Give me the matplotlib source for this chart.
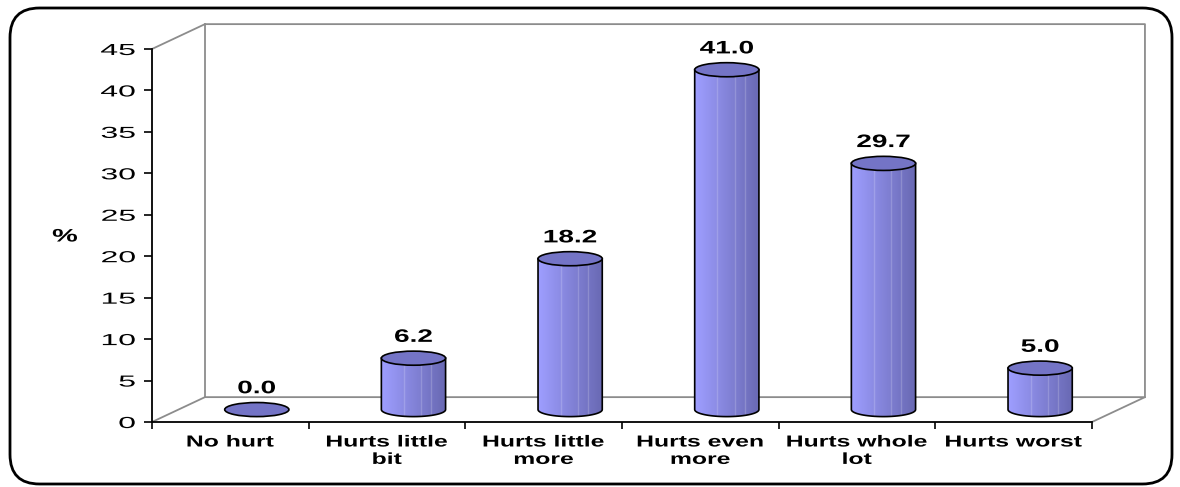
import numpy as np
import matplotlib
matplotlib.use('Agg')
import matplotlib.pyplot as plt
from matplotlib.patches import Ellipse, FancyBboxPatch, PathPatch
from matplotlib.patheffects import AbstractPathEffect
from matplotlib.path import Path
from matplotlib.transforms import Affine2D

plt.rcParams['font.family'] = ['Liberation Sans', 'DejaVu Sans']

# survey results (%)
categories = ['No hurt', 'Hurts little\nbit', 'Hurts little\nmore',
              'Hurts even\nmore', 'Hurts whole\nlot', 'Hurts worst']
values = [0.0, 6.2, 18.2, 41.0, 29.7, 5.0]
yticks = list(range(0, 50, 5))


class Widen(AbstractPathEffect):
    """Draw text glyphs stretched horizontally (wide Arial look)."""

    def __init__(self, sx, anchor='center'):
        super().__init__()
        self.sx = sx
        self.anchor = anchor

    def draw_path(self, renderer, gc, tpath, affine, rgbFace=None):
        ext = tpath.get_extents(affine)
        x0 = ext.x1 if self.anchor == 'right' else (ext.x0 + ext.x1) / 2
        aff = affine + Affine2D().translate(-x0, 0).scale(self.sx, 1).translate(x0, 0)
        renderer.draw_path(gc, tpath, aff, rgbFace)


# 3d look: depth offset of the back wall, in data units
depth_x = 0.338
depth_y = 3.0
bar_w = 0.41
cap_h = 1.7

fig = plt.figure(figsize=(11.8, 4.87), dpi=100)
ax = fig.add_axes([152 / 1180, 65 / 487, 940 / 1180, 373 / 487])

n = len(categories)
grey = '#8c8c8c'
# back wall + floor outline
ax.plot([0, depth_x, n + depth_x, n], [0, depth_y, depth_y, 0], color=grey, lw=1.3, clip_on=False)
ax.plot([0, depth_x, n + depth_x, n + depth_x], [45, 45 + depth_y, 45 + depth_y, depth_y],
        color=grey, lw=1.3, clip_on=False)
ax.plot([depth_x, depth_x], [depth_y, 45 + depth_y], color=grey, lw=1.3, clip_on=False)

# horizontal shading for the cylinder body
shade = np.linspace(0, 1, 64)
r = 0.62 - 0.21 * shade
g = 0.62 - 0.21 * shade
b = 1.00 - 0.30 * shade
grad = np.dstack([r, g, b])
grad = np.repeat(grad, 2, axis=0)

base = depth_y / 2
for i, v in enumerate(values):
    cx = i + 0.5 + depth_x / 2
    x0, x1 = cx - bar_w / 2, cx + bar_w / 2
    if v > 0:
        t = np.linspace(np.pi, 2 * np.pi, 40)
        arc = np.column_stack([cx + bar_w / 2 * np.cos(t), base + cap_h / 2 * np.sin(t)])
        verts = np.vstack([[x0, base + v], arc, [x1, base + v], [x0, base + v]])
        codes = [Path.MOVETO] + [Path.LINETO] * (len(verts) - 2) + [Path.CLOSEPOLY]
        body = PathPatch(Path(verts, codes), facecolor='none', edgecolor='black', lw=1.2, zorder=3)
        ax.add_patch(body)
        im = ax.imshow(grad, extent=[x0, x1, base - cap_h / 2, base + v], aspect='auto',
                       interpolation='bilinear', zorder=2)
        im.set_clip_path(body)
        # faint vertical highlights
        for fx in (0.35, 0.62, 0.78):
            ax.plot([x0 + fx * bar_w] * 2, [base - cap_h * 0.45, base + v], color='white',
                    alpha=0.18, lw=1, zorder=2.5)
    ax.add_patch(Ellipse((cx, base + v), bar_w, cap_h, facecolor='#7474c6',
                         edgecolor='black', lw=1.2, zorder=4))
    ax.annotate(f'{v:.1f}', (cx, base + v), xytext=(0, 15), textcoords='offset points',
                ha='center', va='center', fontsize=13, fontweight='bold', zorder=5,
                path_effects=[Widen(1.55)])

ax.set_xlim(0, n)
ax.set_ylim(0, 45)
ax.set_yticks(yticks)
ax.tick_params(axis='y', direction='out', length=6, width=1.2, pad=6, labelsize=11.5)
ax.set_xticks(range(n + 1))
ax.set_xticklabels([])
ax.tick_params(axis='x', which='major', direction='out', length=5, width=1.2)
ax.set_xticks([i + 0.5 for i in range(n)], minor=True)
ax.set_xticklabels(categories, minor=True, fontsize=11.5, fontweight='bold', linespacing=1.2)
ax.tick_params(axis='x', which='minor', length=0, pad=9)
for lab in ax.get_yticklabels():
    lab.set_path_effects([Widen(2.0, 'right')])
for lab in ax.get_xticklabels(minor=True):
    lab.set_path_effects([Widen(1.55)])
for s in ('top', 'right'):
    ax.spines[s].set_visible(False)
for s in ('left', 'bottom'):
    ax.spines[s].set_linewidth(1.3)
ax.patch.set_visible(False)
ax.text(-0.0926, 0.496, '%', transform=ax.transAxes, ha='center', va='center',
        fontsize=13, fontweight='bold', path_effects=[Widen(1.6)])

# rounded outer frame
frame = FancyBboxPatch((10 / 1180, 3 / 487), 1162 / 1180, 476 / 487,
                       boxstyle='round,pad=0,rounding_size=0.025', transform=fig.transFigure,
                       facecolor='none', edgecolor='black', lw=2, mutation_aspect=1180 / 487)
fig.patches.append(frame)

fig.savefig('out.png', dpi=100)
